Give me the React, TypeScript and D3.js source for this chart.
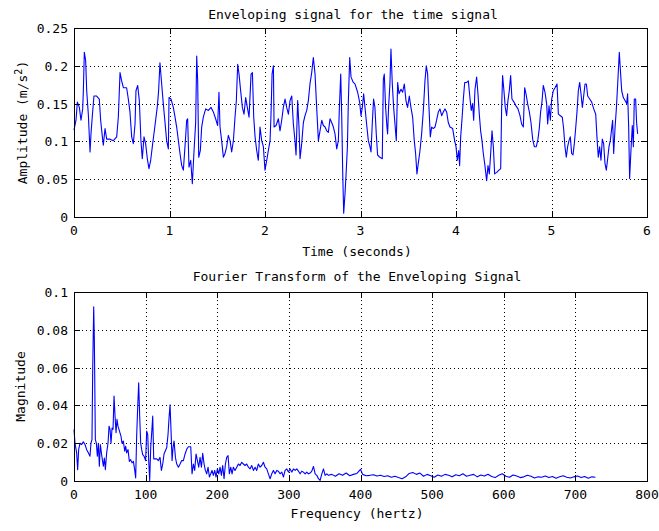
import React, { useRef, useEffect } from "react";
import * as d3 from "d3";

// enveloping signal: time (s) and amplitude (m/s^2)
const timeSec = [
  0.000, 0.021, 0.035, 0.056, 0.073, 0.091, 0.098, 0.108, 0.122, 0.133, 0.150, 0.168, 0.178, 0.192, 0.209, 0.237,
  0.265, 0.279, 0.297, 0.307, 0.325, 0.342, 0.377, 0.412, 0.447, 0.464, 0.482, 0.499, 0.517, 0.551, 0.569, 0.586,
  0.604, 0.621, 0.639, 0.649, 0.667, 0.684, 0.701, 0.715, 0.733, 0.750, 0.768, 0.785, 0.803, 0.824, 0.848, 0.873,
  0.886, 0.900, 0.918, 0.935, 0.953, 0.970, 0.988,
  0.995, 1.016, 1.040, 1.058, 1.075, 1.093, 1.110, 1.128, 1.145, 1.162, 1.180, 1.190, 1.204, 1.222, 1.239, 1.257,
  1.274, 1.285, 1.295, 1.306, 1.323, 1.337, 1.354, 1.379, 1.407, 1.435, 1.459, 1.483, 1.504, 1.518, 1.529, 1.546,
  1.564, 1.581, 1.599, 1.616, 1.634, 1.651, 1.669, 1.686, 1.700, 1.714, 1.728, 1.745, 1.763, 1.780, 1.798, 1.815,
  1.833, 1.854, 1.868, 1.882, 1.896, 1.913, 1.930, 1.948, 1.965, 1.983,
  2.000, 2.018, 2.035, 2.053, 2.063, 2.074, 2.088, 2.095, 2.116, 2.140, 2.157, 2.175, 2.192, 2.210, 2.227, 2.245,
  2.262, 2.280, 2.297, 2.314, 2.325, 2.342, 2.356, 2.367, 2.384, 2.402, 2.419, 2.437, 2.454, 2.471, 2.489, 2.506,
  2.524, 2.541, 2.559, 2.576, 2.594, 2.611, 2.629, 2.646, 2.663, 2.681, 2.698, 2.716, 2.733, 2.751, 2.768, 2.779,
  2.793, 2.803, 2.814, 2.824, 2.838, 2.849, 2.863, 2.873, 2.887, 2.901, 2.925,
  2.942, 2.970, 2.991, 3.005, 3.019, 3.033, 3.047, 3.064, 3.082, 3.099, 3.110, 3.123, 3.137, 3.151, 3.165, 3.179,
  3.203, 3.228, 3.239, 3.249, 3.263, 3.277, 3.284, 3.294, 3.308, 3.319, 3.333, 3.347, 3.361, 3.375, 3.389, 3.403,
  3.424, 3.441, 3.459, 3.476, 3.493, 3.511, 3.528, 3.546, 3.563, 3.577, 3.591, 3.605, 3.623, 3.640, 3.658, 3.675,
  3.689, 3.703, 3.717, 3.731, 3.745, 3.762, 3.780, 3.797, 3.815, 3.832, 3.850, 3.867, 3.884, 3.902, 3.919,
  3.937, 3.965, 3.986, 4.000, 4.014, 4.028, 4.038, 4.049, 4.063, 4.077, 4.091, 4.112, 4.129, 4.147, 4.160, 4.174,
  4.185, 4.199, 4.216, 4.230, 4.244, 4.258, 4.272, 4.286, 4.303, 4.321, 4.335, 4.349, 4.363, 4.377, 4.391, 4.405,
  4.426, 4.450, 4.468, 4.478, 4.488, 4.502, 4.516, 4.530, 4.544, 4.558, 4.572, 4.586, 4.607, 4.628, 4.649, 4.670,
  4.687, 4.705, 4.719, 4.733, 4.750, 4.768, 4.785, 4.803, 4.820, 4.841, 4.858, 4.872, 4.886, 4.900, 4.914,
  4.932, 4.949, 4.960, 4.974, 4.988, 5.002, 5.019, 5.037, 5.058, 5.072, 5.093, 5.113, 5.127, 5.141, 5.155, 5.169,
  5.183, 5.197, 5.211, 5.225, 5.239, 5.253, 5.267, 5.281, 5.295, 5.309, 5.323, 5.337, 5.351, 5.365, 5.379, 5.400,
  5.421, 5.442, 5.463, 5.476, 5.490, 5.504, 5.518, 5.532, 5.546, 5.560, 5.574, 5.588, 5.602, 5.616, 5.630, 5.640,
  5.651, 5.665, 5.679, 5.693, 5.710, 5.724, 5.735, 5.752, 5.770, 5.787, 5.797, 5.808, 5.818, 5.832, 5.846, 5.857,
  5.867, 5.881, 5.891, 5.902,
];
const amplitude = [
  0.115, 0.128, 0.152, 0.145, 0.128, 0.143, 0.167, 0.218, 0.207, 0.167, 0.136, 0.086, 0.110, 0.134, 0.160, 0.160,
  0.156, 0.128, 0.106, 0.095, 0.117, 0.103, 0.103, 0.101, 0.106, 0.132, 0.191, 0.180, 0.171, 0.171, 0.156, 0.139,
  0.106, 0.097, 0.123, 0.167, 0.174, 0.154, 0.101, 0.077, 0.106, 0.097, 0.077, 0.064, 0.075, 0.097, 0.121, 0.147,
  0.167, 0.204, 0.176, 0.150, 0.125, 0.101, 0.090,
  0.158, 0.156, 0.145, 0.132, 0.119, 0.101, 0.084, 0.068, 0.062, 0.093, 0.128, 0.130, 0.066, 0.075, 0.044, 0.088,
  0.125, 0.213, 0.180, 0.079, 0.088, 0.119, 0.132, 0.143, 0.141, 0.145, 0.139, 0.130, 0.121, 0.165, 0.119, 0.101,
  0.079, 0.084, 0.093, 0.108, 0.101, 0.086, 0.101, 0.132, 0.154, 0.202, 0.189, 0.167, 0.145, 0.136, 0.158, 0.145,
  0.132, 0.189, 0.191, 0.132, 0.106, 0.088, 0.075, 0.119, 0.101, 0.093,
  0.062, 0.075, 0.088, 0.101, 0.136, 0.189, 0.200, 0.119, 0.121, 0.130, 0.114, 0.128, 0.145, 0.156, 0.145, 0.136,
  0.154, 0.160, 0.123, 0.101, 0.082, 0.154, 0.119, 0.077, 0.097, 0.125, 0.134, 0.141, 0.154, 0.176, 0.191, 0.211,
  0.189, 0.145, 0.101, 0.114, 0.128, 0.121, 0.119, 0.114, 0.112, 0.130, 0.125, 0.119, 0.110, 0.090, 0.101, 0.145,
  0.189, 0.136, 0.057, 0.005, 0.031, 0.057, 0.093, 0.154, 0.211, 0.185, 0.178,
  0.176, 0.165, 0.152, 0.134, 0.145, 0.163, 0.145, 0.123, 0.101, 0.093, 0.086, 0.123, 0.156, 0.145, 0.110, 0.082,
  0.079, 0.077, 0.182, 0.189, 0.145, 0.119, 0.110, 0.145, 0.176, 0.222, 0.176, 0.145, 0.123, 0.101, 0.178, 0.163,
  0.169, 0.165, 0.176, 0.154, 0.145, 0.160, 0.145, 0.132, 0.101, 0.084, 0.057, 0.071, 0.088, 0.110, 0.141, 0.180,
  0.200, 0.189, 0.145, 0.106, 0.119, 0.117, 0.119, 0.128, 0.139, 0.143, 0.134, 0.139, 0.143, 0.139, 0.125,
  0.119, 0.117, 0.101, 0.093, 0.075, 0.088, 0.068, 0.106, 0.130, 0.156, 0.178, 0.178, 0.180, 0.156, 0.141, 0.150,
  0.128, 0.169, 0.185, 0.163, 0.136, 0.114, 0.101, 0.084, 0.068, 0.048, 0.068, 0.057, 0.084, 0.114, 0.093, 0.057,
  0.059, 0.062, 0.064, 0.145, 0.187, 0.167, 0.145, 0.134, 0.154, 0.167, 0.187, 0.156, 0.152, 0.147, 0.143, 0.134,
  0.123, 0.119, 0.171, 0.163, 0.150, 0.139, 0.125, 0.103, 0.093, 0.093, 0.103, 0.117, 0.139, 0.152, 0.174,
  0.165, 0.150, 0.123, 0.147, 0.128, 0.156, 0.167, 0.171, 0.176, 0.136, 0.134, 0.132, 0.117, 0.093, 0.079, 0.093,
  0.101, 0.106, 0.084, 0.082, 0.097, 0.117, 0.139, 0.167, 0.178, 0.163, 0.145, 0.160, 0.176, 0.176, 0.160, 0.156,
  0.152, 0.143, 0.136, 0.106, 0.079, 0.093, 0.075, 0.103, 0.097, 0.071, 0.062, 0.077, 0.093, 0.101, 0.117, 0.128,
  0.084, 0.117, 0.143, 0.176, 0.218, 0.189, 0.167, 0.158, 0.154, 0.150, 0.163, 0.119, 0.051, 0.088, 0.121, 0.093,
  0.156, 0.156, 0.125, 0.110,
];

// spectrum of the envelope: frequency (Hz) and magnitude
const freqHz = [
  0, 1.4, 3.7, 5.1, 6.5, 8.4, 10.7, 13.0, 15.4, 17.7, 20.0, 22.3, 23.7, 25.1, 26.1, 27.5, 28.4, 29.8, 31.2, 32.6,
  34.0, 35.4, 36.8, 38.2, 39.6, 41.0, 42.4, 43.8, 45.6, 47.5, 48.9, 50.3, 51.7, 53.1, 54.5, 55.9, 57.3, 58.7, 60.0,
  61.4, 62.8, 64.2, 65.6, 67.0, 68.9, 70.8, 72.2, 73.5, 75.4, 77.3, 79.1, 81.0, 82.9, 84.7, 86.1, 87.5, 88.9, 90.3,
  91.7, 93.1, 94.5, 95.9, 97.8,
  100.0, 101.5, 102.9, 104.3, 105.7, 107.1, 108.5, 109.9, 111.3, 113.1, 115.5, 117.8, 120.1, 122.0, 123.9, 125.7,
  127.6, 129.5, 131.3, 132.7, 134.1, 135.5, 136.9, 138.3, 139.7, 141.6, 143.4, 145.8, 148.1, 150.4, 152.7, 155.1,
  157.4, 159.7, 163.0, 164.8, 166.7, 168.5, 170.4, 172.3, 174.1, 176.0, 177.9, 179.7, 181.6, 183.4, 185.3, 187.2,
  189.0, 190.9, 192.7, 194.6, 196.5, 198.3, 200.2, 202.1, 203.9, 205.8, 207.6, 209.5, 211.4, 213.2, 215.1, 216.9,
  218.8, 220.7, 222.5, 224.8, 227.2, 229.5, 231.8, 234.1, 236.5, 238.8, 241.1, 243.5, 245.8, 248.1, 250.5, 252.8,
  255.1, 257.4, 259.8, 262.1, 264.4, 266.8, 269.1, 271.4, 273.8, 276.1, 278.4, 280.7, 283.1, 285.4, 287.7, 290.1,
  292.4, 294.7, 297.1, 299.4, 301.7, 304.0, 306.4, 308.7, 311.0, 313.4, 315.7, 318.0, 320.3, 322.7, 325.0, 327.3,
  329.7, 332.0, 334.3, 336.7, 339.0, 341.3, 343.6, 346.0, 348.3, 350.6, 353.0, 355.3,
  360, 365, 370, 375, 380, 385, 390, 395, 400, 403, 408, 413, 418, 423, 428, 433, 438, 443, 448, 453, 458, 463,
  468, 473, 478, 483, 488, 493, 498, 503, 508, 513, 518, 523, 528, 533, 538, 543, 548, 553, 558, 563, 568, 573,
  578, 583, 588, 593, 598, 603, 608, 613, 618, 623, 628, 633, 638, 643, 648, 653, 658, 663, 668, 673, 678, 683,
  688, 693, 698, 703, 708, 713, 718, 723, 728,
];
const magnitude = [
  0.0273, 0.020, 0.0149, 0.006, 0.0166, 0.020, 0.0193, 0.0207, 0.0193, 0.0166, 0.0149, 0.0131, 0.020, 0.0219,
  0.0582, 0.0922, 0.075, 0.0219, 0.020, 0.0131, 0.020, 0.0078, 0.0193, 0.0149, 0.0113, 0.0078, 0.0122, 0.006,
  0.0149, 0.020, 0.029, 0.0273, 0.020, 0.028, 0.0273, 0.045, 0.0343, 0.0255, 0.0326, 0.029, 0.0273, 0.0255,
  0.0237, 0.020, 0.0211, 0.0158, 0.0184, 0.0149, 0.0166, 0.0104, 0.0113, 0.0096, 0.0104, 0.006, 0.0016, 0.0237,
  0.0388, 0.052, 0.0343, 0.020, 0.0166, 0.014, 0.0131,
  0.0108, 0.0264, 0.0247, 0.0108, 0.0003, 0.0177, 0.0256, 0.0343, 0.0117, 0.0117, 0.0117, 0.0108, 0.0125, 0.0056,
  0.009, 0.0143, 0.016, 0.0177, 0.0247, 0.0334, 0.0403, 0.0264, 0.0108, 0.0177, 0.0212, 0.0125, 0.009, 0.0073,
  0.009, 0.0108, 0.0108, 0.0143, 0.0169, 0.0181, 0.0181, 0.0038, 0.009, 0.0056, 0.0143, 0.0108, 0.0073, 0.0125,
  0.0073, 0.0146, 0.009, 0.0056, 0.0038, 0.0073, 0.0021, 0.0038, 0.0056, 0.003, 0.0056, 0.0021, 0.0064, 0.0038,
  0.0073, 0.003, 0.0082, 0.0012, 0.009, 0.0125, 0.0134, 0.0038, 0.0073, 0.0038, 0.0073, 0.0056, 0.0073, 0.009,
  0.0082, 0.0099, 0.009, 0.0082, 0.009, 0.0073, 0.0064, 0.0082, 0.0056, 0.0073, 0.0056, 0.009, 0.0073, 0.0082,
  0.0099, 0.0073, 0.0064, 0.0038, 0.0012, 0.0038, 0.0056, 0.0038, 0.0056, 0.0052, 0.0038, 0.0047, 0.0021, 0.0056,
  0.0064, 0.0047, 0.0064, 0.0047, 0.0064, 0.0056, 0.0064, 0.0052, 0.0038, 0.0052, 0.0047, 0.0038, 0.0047, 0.0038,
  0.0042, 0.0052, 0.0077, 0.0038, 0.003, 0.0012, 0.0003, 0.0038, 0.0064, 0.003, 0.0038, 0.003,
  0.0035, 0.0025, 0.0038, 0.003, 0.0042, 0.0028, 0.0035, 0.004, 0.0062, 0.0035, 0.0028, 0.003, 0.0033, 0.0026,
  0.003, 0.0024, 0.0028, 0.002, 0.0025, 0.0018, 0.0012, 0.0022, 0.004, 0.0045, 0.0035, 0.0042, 0.0025, 0.0035,
  0.0028, 0.002, 0.0032, 0.0025, 0.0035, 0.003, 0.0022, 0.0033, 0.0028, 0.0038, 0.0025, 0.003, 0.0035, 0.0022,
  0.0032, 0.0026, 0.0036, 0.0024, 0.0018, 0.003, 0.0038, 0.0025, 0.002, 0.0032, 0.0026, 0.0018, 0.0022, 0.003,
  0.0025, 0.0016, 0.0022, 0.002, 0.0026, 0.0018, 0.0024, 0.0015, 0.0022, 0.0028, 0.002, 0.0016, 0.0022, 0.0026,
  0.0018, 0.0024, 0.0015, 0.0022, 0.002,
];

const timeTicks = [0, 1, 2, 3, 4, 5, 6];
const ampTicks = [0, 0.05, 0.1, 0.15, 0.2, 0.25];
const freqTicks = [0, 100, 200, 300, 400, 500, 600, 700, 800];
const magTicks = [0, 0.02, 0.04, 0.06, 0.08, 0.1];

const font = "'DejaVu Sans Mono', 'Liberation Mono', monospace";

export default function App() {
  const ref = useRef<SVGSVGElement>(null);

  useEffect(() => {
    const width = 659, height = 531;
    const svg = d3.select(ref.current);
    svg.selectAll("*").remove();
    svg.attr("width", width).attr("height", height)
      .style("font-family", font)
      .style("background", "#fff");

    const left = 74, right = 647;

    function panel(opts: {
      top: number; bottom: number;
      xs: number[]; ys: number[];
      xTicks: number[]; yTicks: number[];
      xMax: number; yMax: number;
      title: string; titleX: number; titleY: number;
      xLabel: string; xLabelY: number; tickLabelY: number;
      yLabelX: number;
      yLabel: (t: d3.Selection<SVGTextElement, unknown, null, undefined>) => void;
    }) {
      const x = d3.scaleLinear().domain([0, opts.xMax]).range([left, right]);
      const y = d3.scaleLinear().domain([0, opts.yMax]).range([opts.bottom, opts.top]);
      const g = svg.append("g");

      // dotted grid (inner ticks only)
      g.append("g").selectAll("line")
        .data(opts.xTicks.slice(1, -1))
        .join("line")
        .attr("x1", d => Math.round(x(d)) + 0.5).attr("x2", d => Math.round(x(d)) + 0.5)
        .attr("y1", opts.top).attr("y2", opts.bottom)
        .attr("stroke", "#000").attr("stroke-dasharray", "1,3");
      g.append("g").selectAll("line")
        .data(opts.yTicks.slice(1, -1))
        .join("line")
        .attr("y1", d => Math.round(y(d)) + 0.5).attr("y2", d => Math.round(y(d)) + 0.5)
        .attr("x1", left).attr("x2", right)
        .attr("stroke", "#000").attr("stroke-dasharray", "1,3");

      // signal
      const line = d3.line<number>()
        .x((_, i) => x(opts.xs[i]))
        .y(d => y(d));
      g.append("path")
        .datum(opts.ys)
        .attr("d", line)
        .attr("fill", "none")
        .attr("stroke", "#0000ff")
        .attr("stroke-width", 1.1)
        .attr("stroke-linejoin", "round");

      // box
      g.append("rect")
        .attr("x", left + 0.5).attr("y", opts.top + 0.5)
        .attr("width", right - left).attr("height", opts.bottom - opts.top)
        .attr("fill", "none").attr("stroke", "#000")
        .attr("shape-rendering", "crispEdges");

      // inward ticks on all four sides
      const tl = 6;
      const ticks = g.append("g").attr("stroke", "#000").attr("shape-rendering", "crispEdges");
      opts.xTicks.forEach(d => {
        const px = Math.round(x(d)) + 0.5;
        ticks.append("line").attr("x1", px).attr("x2", px).attr("y1", opts.bottom).attr("y2", opts.bottom - tl);
        ticks.append("line").attr("x1", px).attr("x2", px).attr("y1", opts.top).attr("y2", opts.top + tl);
      });
      opts.yTicks.forEach(d => {
        const py = Math.round(y(d)) + 0.5;
        ticks.append("line").attr("y1", py).attr("y2", py).attr("x1", left).attr("x2", left + tl);
        ticks.append("line").attr("y1", py).attr("y2", py).attr("x1", right).attr("x2", right - tl);
      });

      // tick labels
      g.append("g").selectAll("text")
        .data(opts.xTicks)
        .join("text")
        .attr("x", d => x(d))
        .attr("y", opts.tickLabelY)
        .attr("text-anchor", "middle")
        .attr("font-size", 13)
        .text(d => String(d));
      g.append("g").selectAll("text")
        .data(opts.yTicks)
        .join("text")
        .attr("x", left - 6)
        .attr("y", d => y(d) + 5)
        .attr("text-anchor", "end")
        .attr("font-size", 13)
        .text(d => String(d));

      // title and axis labels
      g.append("text")
        .attr("x", opts.titleX).attr("y", opts.titleY)
        .attr("text-anchor", "middle").attr("font-size", 13)
        .text(opts.title);
      g.append("text")
        .attr("x", 357).attr("y", opts.xLabelY)
        .attr("text-anchor", "middle").attr("font-size", 13)
        .text(opts.xLabel);
      const yl = g.append("text")
        .attr("transform", `translate(${opts.yLabelX},${(opts.top + opts.bottom) / 2}) rotate(-90)`)
        .attr("text-anchor", "middle").attr("font-size", 13);
      opts.yLabel(yl);
    }

    panel({
      top: 28, bottom: 217,
      xs: timeSec, ys: amplitude,
      xTicks: timeTicks, yTicks: ampTicks,
      xMax: 6, yMax: 0.25,
      title: "Enveloping signal for the time signal", titleX: 353, titleY: 19,
      xLabel: "Time (seconds)", xLabelY: 256, tickLabelY: 235,
      yLabelX: 27,
      yLabel: t => {
        t.append("tspan").text("Amplitude (m/s");
        t.append("tspan").attr("dy", -5).attr("font-size", 10).text("2");
        t.append("tspan").attr("dy", 5).text(")");
      },
    });

    panel({
      top: 292, bottom: 481,
      xs: freqHz, ys: magnitude,
      xTicks: freqTicks, yTicks: magTicks,
      xMax: 800, yMax: 0.1,
      title: "Fourier Transform of the Enveloping Signal", titleX: 357, titleY: 281,
      xLabel: "Frequency (hertz)", xLabelY: 518, tickLabelY: 499,
      yLabelX: 25,
      yLabel: t => { t.text("Magnitude"); },
    });
  }, []);

  return <svg ref={ref} style={{ position: "absolute", left: 0, top: 0 }}></svg>;
}
